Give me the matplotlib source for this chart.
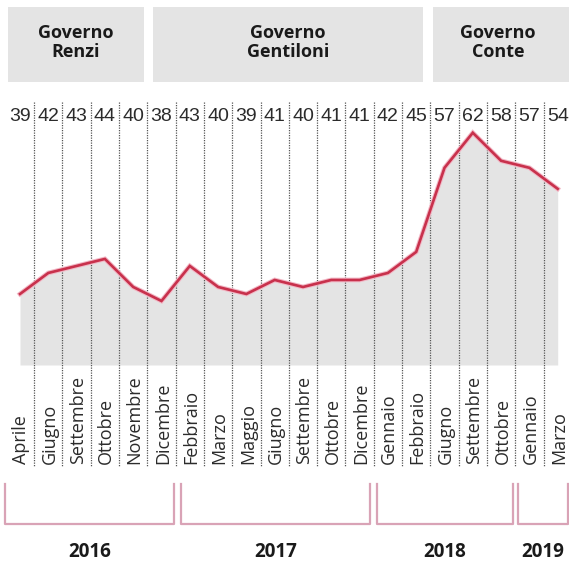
import matplotlib
matplotlib.use("Agg")
import matplotlib.pyplot as plt
from matplotlib.patches import Rectangle
from matplotlib.lines import Line2D
from matplotlib import font_manager as fm

# ---------------- data ----------------
months = ["Aprile", "Giugno", "Settembre", "Ottobre", "Novembre", "Dicembre",
          "Febbraio", "Marzo", "Maggio", "Giugno", "Settembre", "Ottobre", "Dicembre",
          "Gennaio", "Febbraio", "Giugno", "Settembre", "Ottobre",
          "Gennaio", "Marzo"]
values = [39, 42, 43, 44, 40, 38, 43, 40, 39, 41, 40, 41, 41, 42, 45, 57, 62, 58, 57, 54]
years = ["2016", "2017", "2018", "2019"]
governments = ["Governo\nRenzi", "Governo\nGentiloni", "Governo\nConte"]

# ---------------- style ----------------
W, H = 569, 563
names = {f.name for f in fm.fontManager.ttflist}
num_font = "Liberation Sans Narrow" if "Liberation Sans Narrow" in names else "Liberation Sans"
txt_font = "Open Sans"

fig = plt.figure(figsize=(W / 100, H / 100), dpi=100)
ax = fig.add_axes([0, 0, 1, 1])
ax.set_axis_off()

# x: column i centred at 20 + 28.3*i px ; y: value v at 301 - (v-38)*7.01 px from top
ax.set_xlim(-20 / 28.3, (W - 20) / 28.3)
ax.set_ylim(38 - (H - 301) / 7.01, 38 + 301 / 7.01)
base = 38 - (365 - 301) / 7.01

def fy(px):
    return 1 - px / H

def fx(px):
    return px / W

xs = list(range(len(values)))
ax.fill_between(xs, values, base, color="#e4e4e4", lw=0, zorder=1)

xt = ax.get_xaxis_transform()
for i in range(len(values) - 1):
    ax.add_line(Line2D([i + 0.5, i + 0.5], [fy(102), fy(467)], transform=xt,
                       color="#555555", lw=0.9, ls=(0, (1, 1)), zorder=2))

ax.plot(xs, values, color="#f2b8c6", lw=3.4, solid_joinstyle="miter", zorder=3)
ax.plot(xs, values, color="#c8314c", lw=1.9, solid_joinstyle="miter", zorder=4)

for i, v in enumerate(values):
    ax.text(i, fy(121), str(v), transform=xt, ha="center", va="baseline",
            fontsize=14, family=num_font, color="#2b2b2b", zorder=5)

for i, m in enumerate(months):
    ax.text(i + 0.05, fy(464), m, transform=xt, rotation=90, ha="center", va="bottom",
            fontsize=13, family=txt_font, color="#2b2b2b", zorder=5)

# government header boxes
boxes = [(8, 144), (153, 423), (433, 575)]
centers = [76, 288, 498]
for (x0, x1), c, g in zip(boxes, centers, governments):
    ax.add_patch(Rectangle((fx(x0), fy(82)), fx(x1) - fx(x0), fy(7) - fy(82),
                           transform=ax.transAxes, facecolor="#e4e4e4", lw=0, zorder=1))
    l1, l2 = g.split("\n")
    ax.text(fx(c), fy(38), l1, transform=ax.transAxes, ha="center", va="baseline",
            fontsize=13, fontweight="bold", family=txt_font, color="#1a1a1a")
    ax.text(fx(c), fy(57), l2, transform=ax.transAxes, ha="center", va="baseline",
            fontsize=13, fontweight="bold", family=txt_font, color="#1a1a1a")

# year brackets
brackets = [(5, 174), (181, 370), (377, 513), (518, 568)]
for (x0, x1), y in zip(brackets, years):
    ax.add_line(Line2D([fx(x0), fx(x0), fx(x1), fx(x1)], [fy(484), fy(524), fy(524), fy(484)],
                       transform=ax.transAxes, color="#d9a3b6", lw=1.6, zorder=2))
    ax.text(fx((x0 + x1) / 2), fy(562), y, transform=ax.transAxes, ha="center", va="bottom",
            fontsize=13.5, fontweight="bold", family=txt_font, color="#1a1a1a")

fig.savefig("out.png", dpi=100)
